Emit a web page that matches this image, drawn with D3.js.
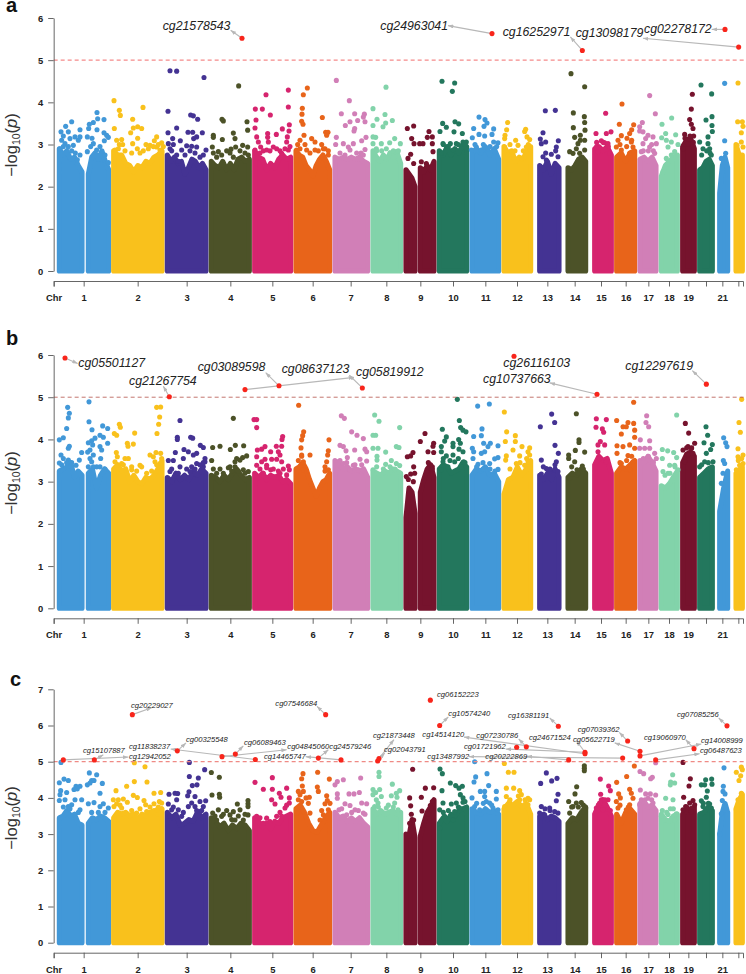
<!DOCTYPE html>
<html><head><meta charset="utf-8">
<script src="https://cdn.jsdelivr.net/npm/d3@7"></script>
<style>
html,body{margin:0;padding:0;background:#fff}
text{font-family:"Liberation Sans",Arial,sans-serif}
</style></head><body><svg id="c" width="746" height="974"></svg>
<script>
// genome position index along the x axis (no numeric scale in the source)
const chrColors=["#4298d8","#f9c11c","#443393","#4c5228","#d6246e","#e8641a","#d17fb7","#82d3aa","#76132d","#23775d"];
const chrTickLabels=["Chr","1","2","3","4","5","6","7","8","9","10","11","12","13","14","15","16","17","18","19","","21",""];
const chrTickPos=[161,251,413,560,691,817,938,1052,1159,1261,1359,1456,1551,1642,1724,1803,1877,1945,2007,2065,2118,2167,2215];
const armSpans=[[178,246],[265,326],[341,486],[502,618],[634,748],[764,872],[888,989],[1005,1103],[1119,1202],[1218,1245],[1261,1302],[1318,1400],[1416,1496],[1512,1592],[1619,1677],[1704,1757],[1784,1834],[1850,1904],[1920,1968],[1984,2032],[2048,2083],[2099,2137],[2159,2183],[2208,2227]];
const armChr=[0,0,1,2,3,4,5,6,7,8,8,9,10,11,12,13,14,15,16,17,18,19,20,21];

// dense-mass upper edge per chromosome arm, -log10(p)
const massA=[[2.9,2.75,2.85,2.65,2.7,2.5,2.35],[2.3,2.7,2.8,2.65,2.85,2.6,2.4],[2.85,2.75,2.75,2.55,2.5,2.35,2.5,2.45,2.6,2.55,2.7,2.75,2.85],[2.75,2.6,2.7,2.55,2.6,2.3,2.45,2.65,2.6,2.45,2.55,2.4],[2.6,2.5,2.45,2.6,2.4,2.55,2.4,2.65,2.7,2.6,2.65],[2.85,2.7,2.65,2.4,2.55,2.45,2.65,2.75,2.65,2.7],[2.85,2.75,2.7,2.5,2.4,2.25,2.5,2.65,2.75,2.6,2.4],[2.7,2.65,2.7,2.65,2.7,2.65,2.7,2.6,2.55],[2.85,2.7,2.6,2.75,2.65,2.8,2.7,2.8,2.55],[2.4,2.3,2.2,2.0],[2.45,2.35,2.5,2.4,2.6],[2.85,2.75,2.95,2.75,2.9,2.8,3.0,2.95],[2.8,2.9,2.8,2.95,2.75,2.9,2.65],[2.95,2.8,2.85,2.6,2.7,2.65,2.85,2.95],[2.5,2.4,2.6,2.3,2.55,2.45],[2.45,2.4,2.5,2.65,2.7,2.6],[2.9,2.95,2.85,2.95,2.75],[2.7,2.8,2.6,2.8,2.85],[2.65,2.7,2.6,2.7,2.5],[2.25,2.5,2.6,2.7,2.75],[2.95,3.1,3.15,2.9],[2.4,2.45,2.6,2.65,2.5],[1.85,2.5,2.7,2.45],[3.0,2.75,2.75]];
const massB=[[3.25,3.3,3.35,3.45,3.1,3.25,3.15],[3.2,3.3,2.85,3.15,3.3,3.2],[3.3,3.4,3.25,3.3,3.0,3.15,3.0,2.95,3.1,3.05,3.15,3.3,3.5],[3.1,3.0,3.2,3.05,3.15,3.05,3.25,3.15,3.3,3.2],[3.15,3.1,3.0,3.15,3.05,3.2,3.3,3.15,3.05,3.1],[3.2,3.1,3.2,3.05,3.15,3.1,3.15,3.0,3.05,2.95],[3.3,3.35,3.45,3.3,3.05,2.85,2.65,2.85,3.0,3.05,3.2],[3.5,3.4,3.3,3.35,3.25,3.3,3.25,3.3,3.1],[3.25,3.2,3.15,3.25,3.2,3.3,3.25,3.2],[2.15,2.85,2.75,2.25],[2.75,3.05,3.3,3.4,3.1],[3.3,3.4,3.35,3.2,3.25,3.3,3.45,3.35],[3.15,3.3,3.25,3.35,3.15,3.2,3.0],[2.7,3.05,3.1,3.35,3.15,3.3,3.5],[3.15,3.05,3.2,3.05,3.3,3.1],[3.1,3.2,3.15,3.3,3.2],[3.4,3.6,3.5,3.55,3.2],[3.2,3.35,3.3,3.4,3.5],[3.5,3.45,3.6,3.45,3.25],[2.9,2.85,2.95,3.1,3.25],[3.45,3.65,3.7,3.6],[3.1,3.2,3.3,3.35],[2.3,2.85,3.25],[3.2,3.35]];
const massC=[[3.45,3.5,3.65,3.5,3.55,3.3,3.25],[3.3,3.45,3.4,3.5,3.45,3.35],[3.45,3.6,3.55,3.6,3.5,3.55,3.4,3.55,3.5,3.6,3.65,3.55,3.7],[3.6,3.45,3.55,3.25,3.3,3.4,3.35,3.6,3.45,3.55],[3.45,3.35,3.2,3.3,3.1,3.25,3.15,3.3,3.25,3.1],[3.45,3.35,3.2,3.3,3.15,3.35,3.3,3.45,3.5,3.55],[3.7,3.8,3.6,3.3,3.1,3.05,3.25,3.45,3.6],[3.6,3.45,3.5,3.35,3.45,3.35,3.45,3.3,3.2],[3.7,3.55,3.65,3.55,3.6,3.65,3.55,3.6],[3.0,2.95,3.4,2.9],[2.95,3.3,3.6,3.75,3.95],[3.3,3.45,3.35,3.55,3.5,3.65,3.7,3.75],[3.7,3.6,3.55,3.7,3.6,3.65,3.55],[3.7,3.85,3.8,3.9,3.75,3.85,3.55],[3.5,3.55,3.4,3.5,3.45,3.35],[3.3,3.45,3.4,3.6,3.75],[3.55,3.8,3.95,3.75,3.5],[3.55,3.3,3.6,3.7,3.55],[3.85,3.9,3.75,3.8,3.65],[3.55,3.4,3.35,3.5,3.55],[3.55,3.65,3.7,3.75],[3.55,3.6,3.75,3.65],[3.0,3.6,3.85,3.6],[3.7,3.95,4.1]];

// loose loci above the mass: [position, -log10(p)], per chromosome
const lociA=[
[[183,3.3],[197,3.43],[215,3.54],[240,3.35],[205,3.3],[190,3.2],[185,3.1],[180,2.9],[195,3.02],[220,2.98],[225,3.18],[240,3.18],[210,3.14],[226,2.8],[232,2.64],[291,3.76],[293,3.61],[312,3.59],[280,3.52],[268,3.48],[266,3.38],[291,3.35],[312,3.28],[320,3.22],[325,3.17],[313,3.09],[262,3.18],[276,3.15],[280,3.02],[290,2.87],[262,2.83],[315,2.75],[325,2.57],[190,2.95],[205,2.95],[215,2.85],[240,2.75],[235,3.1],[272,2.95],[300,2.95]],
[[342,4.04],[358,3.81],[361,3.69],[429,3.88],[343,3.38],[398,3.6],[413,3.42],[400,3.39],[425,3.38],[392,3.28],[413,3.15],[398,3.02],[350,3.1],[365,3.12],[470,3.18],[463,3.09],[485,3.04],[358,3.0],[368,3.0],[438,3.0],[450,2.98],[412,2.9],[345,2.87],[470,2.94],[480,2.87],[355,2.9],[375,2.85],[395,2.8],[420,2.8],[430,2.85],[445,2.9],[460,2.95],[475,3.0],[490,2.95]],
[[510,4.75],[530,4.74],[612,4.59],[504,3.79],[572,3.7],[580,3.68],[593,3.6],[530,3.39],[504,3.28],[564,3.29],[578,3.29],[607,3.28],[518,3.14],[541,3.09],[505,3.02],[520,3.0],[590,3.18],[581,3.14],[560,2.97],[575,2.96],[545,2.87],[618,2.87],[610,2.75],[590,2.94],[510,2.9],[515,2.85],[530,2.75],[555,2.75],[570,2.85],[585,2.8],[600,2.7],[535,2.6]],
[[716,4.39],[666,3.6],[670,3.56],[741,3.54],[743,3.34],[700,3.27],[640,3.22],[640,3.17],[667,3.12],[705,3.14],[637,2.94],[728,2.98],[743,2.94],[707,2.94],[693,2.89],[680,2.85],[655,2.83],[640,2.8],[650,2.7],[665,2.75],[690,2.8],[700,2.7],[720,2.85],[735,2.8],[745,2.75]],
[[798,4.18],[865,4.29],[766,3.84],[787,3.84],[865,3.89],[811,3.7],[768,3.58],[868,3.47],[765,3.39],[847,3.37],[867,3.32],[770,3.18],[803,3.26],[829,3.24],[803,3.17],[862,3.18],[775,3.06],[805,3.06],[860,3.06],[782,2.94],[820,2.94],[830,2.9],[765,2.87],[800,2.87],[845,2.79],[865,2.87],[780,2.8],[790,2.85],[810,2.85],[840,2.85],[855,2.9],[870,2.95]],
[[922,4.34],[910,4.18],[907,3.86],[906,3.72],[967,3.64],[905,3.55],[909,3.48],[977,3.29],[984,3.29],[980,3.22],[912,3.22],[900,3.1],[935,3.14],[945,3.06],[893,3.0],[965,3.0],[890,2.87],[920,2.87],[945,2.87],[975,2.9],[985,2.75],[900,2.9],[915,3.0],[930,2.8],[955,2.85],[970,2.9],[985,2.85]],
[[1009,4.52],[1048,4.04],[1024,3.73],[1064,3.73],[1093,3.72],[1090,3.65],[1073,3.57],[1050,3.54],[1036,3.45],[1095,3.54],[1064,3.38],[1062,3.32],[1009,3.17],[1098,3.17],[1085,3.09],[1007,3.0],[1030,3.02],[1060,3.02],[1045,2.94],[1095,2.88],[1083,2.8],[1050,2.87],[1020,2.8],[1035,2.75],[1070,2.8],[1090,2.75]],
[[1158,4.36],[1119,3.85],[1131,3.6],[1155,3.71],[1177,3.57],[1157,3.51],[1149,3.42],[1119,3.45],[1127,3.17],[1119,3.18],[1144,3.02],[1169,3.04],[1184,3.14],[1201,3.02],[1119,3.02],[1129,2.9],[1159,2.9],[1189,2.83],[1130,2.85],[1145,2.85],[1170,2.8],[1180,2.85],[1195,2.85]],
[[1241,3.44],[1222,3.38],[1287,3.31],[1235,3.14],[1282,3.17],[1242,3.02],[1259,3.02],[1269,3.02],[1297,3.18],[1297,3.02],[1232,2.77],[1224,2.67],[1241,2.55],[1264,2.59],[1279,2.55],[1299,2.83]],
[[1326,4.5],[1364,4.46],[1357,4.26],[1328,3.5],[1365,3.54],[1376,3.49],[1339,3.41],[1320,3.31],[1362,3.3],[1387,3.26],[1329,3.02],[1351,3.02],[1369,3.02],[1389,3.06],[1399,3.06],[1324,2.79],[1359,2.87],[1330,3.0],[1345,2.95],[1375,3.0],[1395,3.0]],
[[1437,3.65],[1455,3.59],[1461,3.51],[1421,3.38],[1452,3.43],[1481,3.37],[1417,3.16],[1437,3.24],[1454,3.2],[1476,3.24],[1481,3.06],[1494,3.04],[1429,2.94],[1464,2.9],[1414,2.87],[1444,2.87],[1484,2.83],[1425,3.0],[1450,3.0],[1470,2.95],[1490,2.95]],
[[1523,3.52],[1520,3.35],[1577,3.36],[1574,3.31],[1515,3.22],[1514,3.14],[1581,3.18],[1589,3.12],[1547,3.1],[1554,2.98],[1514,2.94],[1579,2.94],[1591,2.87],[1539,2.83],[1524,2.75],[1564,2.67],[1530,3.0],[1545,2.85],[1570,2.85],[1585,3.0]],
[[1636,3.8],[1666,3.81],[1629,3.28],[1621,3.13],[1675,3.09],[1637,3.06],[1624,3.02],[1669,2.94],[1637,2.8],[1667,2.85],[1654,2.77],[1629,2.71],[1674,2.71],[1639,2.63],[1667,2.51]],
[[1713,4.68],[1754,4.37],[1720,3.75],[1753,3.66],[1754,3.52],[1720,3.4],[1755,3.34],[1741,3.22],[1724,3.17],[1741,3.1],[1754,3.1],[1734,3.02],[1729,2.9],[1719,2.79],[1709,2.83],[1754,2.87],[1739,2.79]],
[[1817,3.74],[1788,3.26],[1819,3.26],[1833,3.3],[1804,3.09],[1814,3.04],[1789,2.94],[1824,3.02],[1794,2.83],[1829,2.79],[1790,3.05],[1810,3.05],[1825,2.95]],
[[1866,3.96],[1858,3.48],[1901,3.47],[1895,3.35],[1889,3.26],[1864,3.21],[1881,3.15],[1854,3.1],[1894,3.06],[1849,2.94],[1899,2.94],[1864,2.87],[1889,2.79],[1854,2.71],[1860,3.0],[1880,2.95],[1895,3.1]],
[[1949,4.16],[1966,3.73],[1927,3.52],[1919,3.42],[1919,3.32],[1929,3.3],[1944,3.22],[1937,3.14],[1959,3.18],[1969,3.02],[1929,3.02],[1949,2.94],[1924,2.83],[1964,2.79],[1930,2.85],[1945,2.85],[1960,2.85],[1955,3.0]],
[[2015,3.63],[1986,3.48],[1997,3.26],[1985,3.16],[2027,3.23],[1999,3.1],[2014,3.06],[2004,2.94],[2034,3.0],[2024,2.83],[2014,2.75],[1999,2.67],[1989,2.35]],
[[2077,4.19],[2074,3.84],[2069,3.59],[2074,3.48],[2079,3.38],[2054,3.24],[2081,3.2],[2064,3.02],[2049,2.9],[2055,3.15],[2070,3.2],[2080,3.05]],
[[2103,4.41],[2135,4.2],[2118,3.58],[2136,3.66],[2136,3.45],[2137,3.31],[2124,3.18],[2099,3.06],[2124,3.02],[2109,2.9],[2129,2.9],[2134,2.75],[2105,2.75],[2120,2.85],[2130,2.8]],
[[2174,4.45],[2174,3.09],[2177,2.79],[2164,2.67]],
[[2214,4.46],[2213,3.54],[2227,3.54],[2229,3.43],[2224,3.28],[2211,2.98],[2224,3.06],[2229,2.94],[2214,2.79]]
];
const lociB=[
[[203,4.76],[267,4.89],[208,4.62],[205,4.51],[200,4.26],[267,4.42],[276,4.23],[308,4.32],[323,4.26],[178,3.99],[190,4.04],[300,4.1],[310,4.05],[285,4.03],[275,3.97],[265,3.92],[323,3.91],[208,3.84],[205,3.79],[300,3.83],[305,3.75],[245,3.69],[278,3.87],[270,3.75],[263,3.7],[183,3.63],[280,3.63],[178,3.44],[190,3.55],[205,3.51],[238,3.51],[228,3.39],[302,3.55],[275,3.47],[290,3.35],[265,3.35],[185,3.4],[200,3.45],[215,3.45],[270,3.55],[280,3.35],[300,3.35],[315,3.3]],
[[358,4.36],[361,4.29],[343,4.14],[350,4.1],[404,4.15],[382,3.91],[400,3.89],[384,3.84],[349,3.69],[352,3.59],[470,4.76],[482,4.77],[479,4.53],[476,4.36],[471,4.14],[468,3.69],[482,3.67],[450,3.63],[460,3.59],[345,3.47],[375,3.55],[385,3.55],[365,3.43],[480,3.43],[420,3.39],[395,3.28],[425,3.35],[465,3.47],[350,3.35],[370,3.4],[395,3.35],[410,3.25],[440,3.2],[455,3.25],[470,3.4],[485,3.55]],
[[540,4.45],[532,4.05],[532,4.0],[572,4.05],[578,4.03],[601,3.86],[610,3.81],[526,3.69],[552,3.76],[565,3.71],[590,3.67],[580,3.63],[505,3.5],[520,3.5],[550,3.55],[615,3.55],[615,3.47],[590,3.43],[610,3.35],[575,3.35],[540,3.35],[510,3.24],[570,3.24],[515,3.3],[535,3.2],[560,3.3],[585,3.3],[600,3.4],[610,3.45]],
[[700,4.5],[638,3.81],[660,3.84],[691,3.76],[706,3.86],[731,3.85],[740,3.61],[635,3.5],[728,3.57],[710,3.55],[720,3.51],[705,3.47],[690,3.35],[640,3.3],[660,3.3],[705,3.35],[730,3.28],[745,3.24],[685,3.33],[650,3.2],[670,3.2],[695,3.25],[715,3.25],[735,3.2]],
[[762,4.47],[770,4.47],[770,4.28],[848,4.07],[846,4.0],[829,3.84],[845,3.84],[795,3.83],[785,3.77],[772,3.75],[812,3.71],[835,3.71],[840,3.63],[770,3.59],[795,3.53],[815,3.53],[830,3.53],[845,3.47],[800,3.39],[785,3.47],[770,3.39],[812,3.28],[865,3.37],[868,3.28],[840,3.2],[860,3.16],[800,3.33],[780,3.3],[790,3.2],[820,3.3],[835,3.25],[850,3.3]],
[[896,4.81],[911,4.18],[908,4.09],[905,3.99],[987,3.99],[903,3.8],[930,3.63],[985,3.73],[983,3.63],[980,3.47],[905,3.63],[910,3.47],[900,3.35],[910,3.28],[975,3.35],[985,3.28],[895,3.5],[905,3.6],[920,3.25],[975,3.25]],
[[1024,4.56],[1033,4.5],[1055,4.18],[1071,4.1],[1090,4.02],[1020,3.86],[1030,3.83],[1038,3.73],[1095,3.77],[1064,3.75],[1100,3.71],[1042,3.57],[1080,3.53],[1015,3.47],[1100,3.49],[1030,3.43],[1060,3.39],[1075,3.28],[1050,3.28],[1010,3.28],[1020,3.5],[1040,3.45],[1065,3.4],[1085,3.4]],
[[1124,4.58],[1137,4.43],[1127,4.1],[1199,4.28],[1134,3.79],[1189,3.83],[1197,3.81],[1157,3.7],[1131,3.6],[1131,3.51],[1174,3.5],[1157,3.41],[1189,3.43],[1199,3.38],[1119,4.1],[1119,3.79],[1119,3.28],[1130,3.35],[1150,3.3],[1170,3.35],[1185,3.3]],
[[1275,4.14],[1261,3.95],[1301,3.91],[1299,3.84],[1239,3.69],[1222,3.59],[1232,3.61],[1284,3.71],[1301,3.69],[1241,3.35],[1232,3.18],[1244,3.2],[1297,3.35],[1294,3.28],[1219,3.12],[1225,3.05],[1240,3.0],[1285,3.45],[1297,3.3]],
[[1372,4.95],[1378,4.45],[1382,4.28],[1389,4.22],[1398,4.18],[1327,4.24],[1339,4.06],[1334,3.96],[1376,4.0],[1359,3.91],[1381,3.91],[1324,3.83],[1359,3.83],[1377,3.77],[1389,3.71],[1324,3.71],[1339,3.61],[1359,3.63],[1329,3.47],[1391,3.47],[1364,3.47],[1344,3.35],[1384,3.35],[1324,3.28],[1330,3.55],[1350,3.5],[1375,3.55],[1395,3.45]],
[[1433,4.79],[1468,4.84],[1446,4.25],[1421,4.07],[1444,4.09],[1451,3.91],[1471,3.91],[1494,3.85],[1464,3.83],[1454,3.71],[1417,3.79],[1421,3.71],[1444,3.67],[1419,3.55],[1494,3.57],[1484,3.54],[1469,3.43],[1449,3.45],[1434,3.41],[1494,3.29],[1459,3.31],[1430,3.35],[1450,3.3],[1470,3.3],[1485,3.25]],
[[1513,4.65],[1520,4.18],[1546,4.09],[1516,3.95],[1546,3.95],[1589,3.8],[1566,3.83],[1539,3.75],[1559,3.61],[1584,3.71],[1589,3.63],[1519,3.61],[1517,3.51],[1584,3.47],[1549,3.43],[1574,3.39],[1589,3.35],[1530,3.3],[1560,3.45],[1580,3.55]],
[[1621,4.3],[1655,4.6],[1664,4.4],[1665,3.86],[1675,3.67],[1669,3.47],[1624,3.51],[1639,3.31],[1664,3.28],[1624,3.18],[1649,3.24],[1674,3.24],[1630,3.35],[1650,3.3],[1665,3.4]],
[[1729,4.61],[1737,3.99],[1737,3.93],[1726,3.74],[1706,3.63],[1754,3.7],[1706,3.55],[1724,3.47],[1747,3.37],[1731,3.28],[1709,3.08],[1715,3.35],[1735,3.2],[1750,3.3]],
[[1789,4.49],[1819,4.47],[1788,4.29],[1807,4.25],[1811,4.17],[1801,3.95],[1814,3.87],[1794,3.87],[1794,3.71],[1799,3.55],[1819,3.47]],
[[1901,4.88],[1850,4.45],[1884,4.4],[1901,4.38],[1869,4.3],[1879,4.3],[1904,4.22],[1864,4.13],[1904,4.05],[1851,3.85],[1869,3.83],[1889,3.87],[1904,3.79],[1884,3.62],[1851,3.67],[1899,3.47],[1864,3.43],[1889,3.28],[1860,3.45],[1880,3.5],[1895,3.6]],
[[1940,4.56],[1938,4.4],[1946,4.3],[1921,3.99],[1949,3.97],[1919,3.79],[1934,3.79],[1949,3.79],[1964,3.67],[1969,3.55],[1959,3.47],[1930,3.55],[1945,3.6],[1960,3.45]],
[[2030,4.58],[1987,3.76],[2003,3.73],[2021,3.69],[1987,3.55],[2030,3.57],[2009,3.39],[2024,3.39],[1989,3.24],[2004,3.2],[2034,3.28],[1995,3.15],[2010,3.2],[2025,3.35]],
[[2056,4.38],[2066,4.15],[2084,3.91],[2064,3.83],[2074,3.79],[2049,3.75],[2064,3.63],[2079,3.67],[2054,3.47],[2060,3.8],[2075,3.8]],
[[2118,4.3],[2123,4.1],[2112,3.92],[2137,3.88],[2132,3.76],[2119,3.67],[2139,3.47],[2114,3.47],[2099,3.35],[2105,3.4],[2125,3.45]],
[[2171,4.04],[2177,3.92],[2181,3.83],[2174,3.43],[2169,3.2],[2164,2.96],[2170,3.5]],
[[2225,4.95],[2217,4.4],[2221,4.17],[2214,3.78],[2214,3.59],[2229,3.63],[2219,3.39],[2209,3.28],[2229,3.43],[2215,3.5],[2225,3.55]]
];
const lociC=[
[[183,4.98],[268,4.69],[290,4.64],[178,4.42],[192,4.52],[205,4.48],[307,4.4],[262,4.36],[275,4.48],[282,4.48],[270,4.41],[182,4.2],[300,4.13],[180,4.09],[200,4.15],[228,4.32],[240,4.32],[232,4.25],[222,4.23],[195,3.95],[225,3.95],[245,3.95],[178,3.93],[265,3.84],[282,3.87],[310,3.84],[325,3.72],[300,3.76],[240,3.67],[215,3.81],[205,3.76],[190,3.75],[210,3.7],[235,3.6],[275,3.6],[295,3.6],[315,3.6]],
[[403,4.97],[435,4.86],[403,4.45],[441,4.44],[348,4.2],[380,4.32],[400,4.07],[412,4.01],[462,4.13],[482,4.15],[340,3.95],[355,3.95],[370,3.97],[382,3.88],[432,3.93],[437,3.81],[478,3.9],[462,3.84],[342,3.76],[365,3.72],[350,3.84],[410,3.58],[440,3.62],[470,3.67],[485,3.86],[360,3.8],[395,3.65],[420,3.7],[450,3.75],[475,3.75]],
[[568,4.98],[614,4.78],[568,4.59],[595,4.55],[591,4.36],[577,4.34],[507,4.1],[525,4.13],[533,4.12],[567,4.17],[563,4.06],[585,4.04],[505,3.83],[530,3.95],[515,3.67],[535,3.67],[575,3.86],[600,3.9],[617,3.92],[585,3.76],[610,3.76],[600,3.62],[565,3.76],[545,3.49],[510,3.49],[610,3.49],[520,3.75],[550,3.6],[590,3.65],[605,3.65]],
[[634,4.7],[658,4.57],[636,4.08],[658,4.1],[659,4.02],[712,3.83],[744,3.93],[744,3.84],[744,3.76],[655,3.67],[680,3.65],[700,3.62],[720,3.67],[744,3.53],[638,3.58],[665,3.49],[690,3.53],[730,3.39],[650,3.39],[705,3.39],[645,3.5],[670,3.55],[695,3.4],[715,3.5],[735,3.55]],
[[765,4.43],[817,4.56],[790,4.24],[817,4.24],[860,4.27],[838,4.13],[843,4.02],[868,4.0],[815,3.95],[825,3.83],[868,3.86],[855,3.72],[845,3.49],[770,3.49],[800,3.44],[830,3.49],[790,3.3],[780,3.45],[810,3.35],[840,3.6],[860,3.8]],
[[909,4.67],[953,4.71],[905,4.53],[988,4.52],[952,4.3],[907,4.33],[955,4.18],[980,4.06],[928,4.02],[910,4.18],[895,4.18],[900,4.09],[895,3.95],[918,4.0],[982,3.93],[975,3.84],[890,3.58],[900,3.76],[985,3.67],[930,3.58],[970,3.53],[960,3.39],[905,3.9],[925,3.85],[965,3.65],[990,3.85]],
[[1030,4.5],[1012,4.45],[1082,4.55],[1005,4.36],[1012,4.11],[1047,4.11],[1062,4.11],[1078,4.15],[1012,3.99],[1035,3.84],[1050,3.79],[1085,3.86],[1100,3.84],[1017,3.67],[1065,3.67],[1090,3.58],[1040,3.53],[1025,3.7],[1055,3.6],[1075,3.65],[1095,3.55]],
[[1137,4.71],[1137,4.59],[1177,4.38],[1119,4.23],[1127,4.15],[1139,4.23],[1119,4.09],[1199,4.2],[1189,4.13],[1174,4.06],[1191,4.02],[1129,3.95],[1144,4.04],[1134,3.86],[1184,3.86],[1159,3.72],[1124,3.76],[1194,3.67],[1135,3.75],[1165,3.8],[1180,3.75]],
[[1238,4.79],[1276,4.27],[1301,4.28],[1229,4.0],[1264,4.02],[1232,3.78],[1297,3.9],[1291,3.79],[1266,3.64],[1284,3.56],[1234,3.55],[1241,3.39],[1229,3.3],[1294,3.72]],
[[1320,4.8],[1327,4.67],[1351,4.41],[1367,4.34],[1387,4.32],[1377,4.27],[1326,4.2],[1381,4.09],[1389,4.0],[1329,3.86],[1354,3.83],[1369,3.86],[1389,3.88],[1319,3.67],[1334,3.49],[1359,3.39],[1379,3.72],[1364,3.62],[1319,3.17],[1330,3.6],[1345,3.65],[1375,3.75],[1395,3.9]],
[[1424,5.0],[1427,4.58],[1422,4.44],[1461,4.67],[1466,4.34],[1441,4.18],[1454,4.18],[1489,4.18],[1416,4.0],[1454,4.04],[1489,3.97],[1459,3.9],[1424,3.76],[1439,3.67],[1494,3.67],[1469,3.86],[1479,3.72],[1430,3.85],[1450,3.85],[1475,3.8]],
[[1513,4.95],[1525,4.71],[1542,4.71],[1519,4.27],[1541,4.27],[1559,4.2],[1584,3.99],[1589,3.95],[1519,4.04],[1564,4.09],[1514,3.76],[1559,3.95],[1584,3.81],[1529,3.9],[1530,3.95],[1555,4.05],[1575,3.95]],
[[1639,4.69],[1671,4.54],[1655,4.47],[1622,4.4],[1674,4.1],[1669,3.92],[1624,3.76],[1649,3.72],[1664,3.62],[1634,3.53],[1674,3.58],[1619,3.58],[1635,3.7],[1650,3.65]],
[[1753,4.89],[1753,4.82],[1753,4.75],[1730,4.31],[1725,4.11],[1706,3.9],[1744,3.87],[1719,3.76],[1757,3.72],[1709,3.58],[1729,3.86],[1715,3.75],[1735,3.75],[1750,3.8]],
[[1801,4.52],[1826,4.33],[1831,4.2],[1802,4.1],[1824,3.95],[1804,3.95],[1799,3.86],[1814,3.81],[1831,3.65],[1789,3.72],[1809,3.67],[1795,3.8],[1815,3.95]],
[[1903,4.88],[1880,4.59],[1850,4.43],[1856,4.11],[1889,4.24],[1894,4.13],[1861,4.0],[1899,3.99],[1849,3.9],[1889,3.81],[1879,3.67],[1854,3.72],[1860,3.8],[1885,3.75]],
[[1967,4.97],[1920,4.73],[1931,4.67],[1957,4.57],[1952,4.53],[1921,4.22],[1937,4.11],[1951,4.11],[1967,4.08],[1924,3.95],[1944,3.99],[1959,3.86],[1919,3.81],[1935,3.95],[1955,3.95]],
[[2018,4.64],[2012,4.44],[2024,4.41],[2011,4.36],[1997,3.99],[2019,3.95],[2011,3.7],[1987,3.65],[2029,3.56],[2004,3.54],[1984,3.49],[2024,3.39],[2000,3.6],[2020,3.7]],
[[2049,4.98],[2071,4.53],[2067,4.33],[2051,4.02],[2079,3.93],[2069,3.86],[2057,3.76],[2084,3.81],[2049,3.67],[2074,3.62],[2060,3.75]],
[[2135,4.52],[2117,4.5],[2104,4.36],[2114,4.36],[2136,4.38],[2119,4.02],[2104,3.92],[2122,4.19],[2129,3.83],[2109,3.76],[2134,3.72],[2110,3.85],[2125,3.85]],
[[2172,4.83],[2170,4.32],[2169,4.18],[2175,4.11],[2167,3.93],[2174,3.76],[2164,3.56],[2159,3.0]],
[[2224,4.85],[2227,4.78],[2209,4.71],[2222,4.61],[2217,4.48],[2224,4.13],[2214,3.95],[2224,3.86],[2209,3.67]]
];

// significant CpGs
const hitsA=[[726,5.52],[1476,5.63],[1747,5.23],[2216,5.31],[2175,5.73]];
const hitsB=[[195,5.93],[508,5.01],[735,5.18],[837,5.27],[1087,5.22],[1542,5.97],[1791,5.07],[2119,5.31]];
const hitsC=[[190,5.05],[283,5.05],[397,6.3],[532,5.3],[666,5.14],[706,5.21],[766,5.06],[955,5.1],[1023,5.05],[977,6.3],[1133,5.02],[1137,5.09],[1291,6.7],[1319,6.0],[1550,5.4],[1579,5.41],[1675,5.98],[1755,5.26],[1755,5.22],[1706,5.05],[1868,5.1],[1883,5.57],[1920,5.29],[1920,5.16],[1967,5.05],[2082,5.36],[2181,5.99]];

const labelsA=[["cg21578543",488,5.82],["cg24963041",1141,5.82],["cg16252971",1508,5.66],["cg13098179",1727,5.64],["cg02278172",1932,5.75]];
const labelsB=[["cg05501127",235,5.82],["cg21267754",387,5.38],["cg03089598",593,5.71],["cg08637123",845,5.66],["cg05819912",1068,5.6],["cg26116103",1510,5.82],["cg10737663",1449,5.44],["cg12297619",1876,5.75]];
const labelsC=[["cg15107887",249,5.31],["cg12942052",387,5.14],["cg20229027",393,6.56],["cg00325548",558,5.61],["cg11838237",387,5.42],["cg06089463",732,5.53],["cg04845060",862,5.41],["cg14465747",792,5.15],["cg24579246",988,5.42],["cg07546684",826,6.6],["cg21873448",1119,5.71],["cg02043791",1152,5.34],["cg06152223",1311,6.87],["cg10574240",1345,6.32],["cg14514120",1267,5.75],["cg07230786",1429,5.72],["cg01721962",1392,5.43],["cg16381191",1524,6.29],["cg24671524",1587,5.68],["cg13487992",1282,5.14],["cg20222869",1456,5.15],["cg07039362",1733,5.89],["cg05622719",1719,5.6],["cg19060970",1932,5.67],["cg14008999",2103,5.59],["cg06487623",2100,5.32],["cg07085256",2031,6.3]];

const arrowsA=[[726,5.52,692,5.71],[1476,5.63,1344,5.82],[1747,5.23,1711,5.55],[2216,5.31,1929,5.52],[2175,5.73,2135,5.73]];
const arrowsB=[[195,5.93,233,5.8],[508,5.01,490,5.26],[837,5.27,797,5.58],[1087,5.22,1048,5.52],[735,5.18,1062,5.47],[1791,5.07,1649,5.34],[2119,5.31,2077,5.63]];
const arrowsC=[[283,5.05,310,5.19],[190,5.05,385,5.13],[397,6.3,455,6.49],[532,5.3,558,5.52],[766,5.06,512,5.35],[706,5.21,730,5.44],[666,5.14,860,5.33],[1023,5.05,917,5.14],[955,5.1,985,5.33],[977,6.3,951,6.53],[1137,5.09,1182,5.61],[1133,5.02,1154,5.24],[1319,6.0,1345,6.24],[1755,5.22,1392,5.68],[1579,5.41,1556,5.63],[1755,5.26,1517,5.35],[1675,5.98,1649,6.21],[1755,5.26,1729,5.58],[1868,5.1,1407,5.14],[1706,5.05,1581,5.15],[1883,5.57,1858,5.81],[1920,5.29,1844,5.52],[1920,5.16,2104,5.49],[1967,5.05,2099,5.22],[2082,5.36,2057,5.61],[2181,5.99,2156,6.21]];

const panels=[
 {tag:"a",tagX:6,tagY:11.5,top:18,bottom:271,yMax:6,axisY:281,mass:massA,loci:lociA,hits:hitsA,labels:labelsA,arrows:arrowsA,lineColor:"#f58a8a",lineW:1.2,dash:"4,3",fs:12.3,titleY:145},
 {tag:"b",tagX:6,tagY:345,top:355,bottom:608.3,yMax:6,axisY:618.3,mass:massB,loci:lociB,hits:hitsB,labels:labelsB,arrows:arrowsB,lineColor:"#b5534a",lineW:0.8,dash:"4,3",fs:12.3,titleY:483},
 {tag:"c",tagX:10,tagY:686,top:689.3,bottom:942.7,yMax:7,axisY:952.7,mass:massC,loci:lociC,hits:hitsC,labels:labelsC,arrows:arrowsC,lineColor:"#ef8a85",lineW:1.2,dash:"4,3",fs:7.6,titleY:818}
];

const svg=d3.select("#c");
const x=d3.scaleLinear().domain([0,2238]).range([0,746]);
const xAxisScale=x.copy().domain([161,2229]).range([x(161),x(2229)]);
const color=d3.scaleOrdinal().domain(d3.range(10)).range(chrColors);
const R=2.55, axisX=x(161);
svg.append("defs").append("marker").attr("id","ah").attr("viewBox","0 0 8 6").attr("refX",8).attr("refY",3)
  .attr("markerWidth",5.5).attr("markerHeight",4).attr("markerUnits","userSpaceOnUse").attr("orient","auto")
  .append("path").attr("d","M0,0L8,3L0,6Z").attr("fill","#b8b8b8");

panels.forEach(p=>{
  const g=svg.append("g");
  const y=d3.scaleLinear().domain([0,p.yMax]).range([p.bottom,p.top]);
  // dense mass
  const area=d3.area().x(d=>x(d[0])).y0(y(0)).y1(d=>y(d[1]));
  p.mass.forEach((vals,i)=>{
    const [a,b]=armSpans[i];
    const pos=d3.scaleLinear().domain([0,vals.length-1]).range([a,b]);
    const pts=vals.map((v,j)=>[pos(j),v]);
    const c=color(armChr[i]%10);
    g.append("path").attr("d",area(pts)).attr("fill",c).attr("stroke",c)
     .attr("stroke-width",R*2).attr("stroke-linejoin","round");
  });
  // loose points
  p.loci.forEach((list,k)=>{
    const c=color(k%10);
    g.append("g").selectAll("circle").data(list).join("circle")
     .attr("cx",d=>x(d[0])).attr("cy",d=>y(d[1])).attr("r",R).attr("fill",c);
  });
  // threshold
  g.append("line").attr("x1",axisX).attr("x2",746).attr("y1",y(5)).attr("y2",y(5))
   .attr("stroke",p.lineColor).attr("stroke-width",p.lineW).attr("stroke-dasharray",p.dash);
  // arrows
  g.append("g").selectAll("line").data(p.arrows).join("line")
   .attr("x1",d=>x(d[0])).attr("y1",d=>y(d[1])).attr("x2",d=>x(d[2])).attr("y2",d=>y(d[3]))
   .attr("stroke","#b8b8b8").attr("stroke-width",1.1).attr("marker-end","url(#ah)");
  // hits
  g.append("g").selectAll("circle").data(p.hits).join("circle")
   .attr("cx",d=>x(d[0])).attr("cy",d=>y(d[1])).attr("r",R).attr("fill","#f8251b");
  // labels
  g.append("g").selectAll("text").data(p.labels).join("text")
   .attr("x",d=>x(d[1])).attr("y",d=>y(d[2])).attr("dominant-baseline","central")
   .attr("font-size",p.fs).attr("font-style","italic").attr("fill","#222").text(d=>d[0]);
  // axes
  const ya=g.append("g").attr("transform",`translate(${axisX},0)`)
   .call(d3.axisLeft(y).ticks(p.yMax).tickFormat(d3.format("d")).tickSize(5.5).tickSizeOuter(0).tickPadding(5));
  const xa=g.append("g").attr("transform",`translate(0,${p.axisY})`)
   .call(d3.axisBottom(xAxisScale).tickValues(chrTickPos).tickFormat((d,i)=>chrTickLabels[i]).tickSize(5.5).tickSizeOuter(5.5).tickPadding(8));
  [ya,xa].forEach(a=>{
    a.selectAll("path,line").attr("stroke","#555").attr("stroke-width",0.9);
    a.selectAll("text").attr("font-size",9.4).attr("font-weight","bold").attr("fill","#222")
     .attr("font-family","'Liberation Sans',Arial,sans-serif");
  });
  // y title
  const t=g.append("text").attr("transform",`translate(17,${p.titleY}) rotate(-90)`)
    .attr("text-anchor","middle").attr("font-size",16.5).attr("fill","#333");
  t.append("tspan").text("\u2212log");
  t.append("tspan").attr("font-size",10.5).attr("dy",3).text("10");
  t.append("tspan").attr("dy",-3).text("(");
  t.append("tspan").attr("font-style","italic").text("p");
  t.append("tspan").text(")");
  // panel tag
  g.append("text").attr("x",p.tagX).attr("y",p.tagY).attr("font-size",20).attr("font-weight","bold").attr("fill","#111").text(p.tag);
});
</script></body></html>
